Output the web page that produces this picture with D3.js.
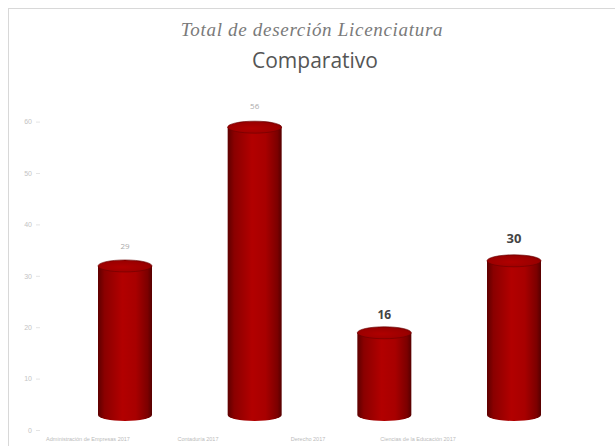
<!DOCTYPE html>
<html><head><meta charset="utf-8">
<script src="https://cdn.jsdelivr.net/npm/d3@7"></script>
<style>html,body{margin:0;padding:0;background:#fff;overflow:hidden}</style>
</head><body>
<svg id="c" width="615" height="446"></svg>
<script>
const categories = ["Administración de Empresas 2017", "Contaduría 2017", "Derecho 2017", "Ciencias de la Educación 2017"];
const values = [29, 56, 16, 30];
const tickValues = [0, 10, 20, 30, 40, 50, 60];
const titleText = "Total de deserción Licenciatura";
const subtitleText = "Comparativo";

const svg = d3.select("#c");
const W = 615, H = 446;

// frame
svg.append("rect").attr("x", 8.5).attr("y", 8.5).attr("width", W - 8).attr("height", H - 8)
  .attr("fill", "#fff").attr("stroke", "#d8d8d8");

// titles
svg.append("text").attr("x", 312).attr("y", 36).attr("text-anchor", "middle")
  .attr("font-family", "Liberation Serif, serif").attr("font-style", "italic")
  .attr("font-size", 19).attr("letter-spacing", 0.7).attr("fill", "#7a7a7a").text(titleText);
svg.append("text").attr("x", 315).attr("y", 68).attr("text-anchor", "middle")
  .attr("font-family", "Open Sans, sans-serif").attr("font-size", 21).attr("fill", "#555").text(subtitleText);

// scales
const y = d3.scaleLinear().domain([0, 60]).range([415, 106.6]);
const x = d3.scalePoint().domain(categories).range([125, 514]);
const xl = d3.scalePoint().domain(categories).range([88, 418]);
const bw = 54, ry = 6;

// back-wall axis (offset from front bars, as in the 3D chart)
const axisG = svg.append("g").attr("transform", "translate(40,15)");
axisG.call(d3.axisLeft(y).tickValues(tickValues).tickSize(4).tickPadding(4));
axisG.select(".domain").remove();
axisG.selectAll(".tick line").attr("stroke", "#e4e4e4");
axisG.selectAll(".tick text").attr("fill", "#c4c4c4").attr("font-size", 7).attr("font-family", "Liberation Sans, sans-serif");

// gradients
const defs = svg.append("defs");
const g = defs.append("linearGradient").attr("id", "body").attr("x1", 0).attr("x2", 1).attr("y1", 0).attr("y2", 0);
[[0, "#5e0000"], [0.12, "#8a0000"], [0.45, "#b20000"], [0.7, "#a80000"], [0.92, "#7c0000"], [1, "#560000"]]
  .forEach(([o, c]) => g.append("stop").attr("offset", o).attr("stop-color", c));
const gt = defs.append("radialGradient").attr("id", "cap").attr("cx", 0.45).attr("cy", 0.6).attr("r", 0.7);
[[0, "#b00000"], [0.7, "#9a0000"], [1, "#700000"]]
  .forEach(([o, c]) => gt.append("stop").attr("offset", o).attr("stop-color", c));

const bars = svg.append("g").selectAll("g").data(categories).join("g");
bars.append("path").attr("fill", "url(#body)").attr("d", (d, i) => {
  const cx = x(d), l = cx - bw / 2, r = cx + bw / 2, t = y(values[i]), b = y(0);
  return `M${l},${t} L${l},${b} A${bw / 2},${ry} 0 0 0 ${r},${b} L${r},${t} Z`;
});
bars.append("ellipse").attr("cx", d => x(d)).attr("cy", (d, i) => y(values[i]))
  .attr("rx", bw / 2).attr("ry", ry).attr("fill", "url(#cap)").attr("stroke", "#6a0000").attr("stroke-width", 0.6);

// value labels
const labelStyle = [
  { size: 8, color: "#aaa", weight: "normal", dy: 17 },
  { size: 8, color: "#aaa", weight: "normal", dy: 18 },
  { size: 12, color: "#444", weight: "bold", dy: 14 },
  { size: 13, color: "#444", weight: "bold", dy: 18 }
];
bars.append("text").attr("x", d => x(d)).attr("y", (d, i) => y(values[i]) - labelStyle[i].dy)
  .attr("text-anchor", "middle").attr("font-family", "Open Sans, sans-serif")
  .attr("font-size", (d, i) => labelStyle[i].size).attr("fill", (d, i) => labelStyle[i].color)
  .attr("font-weight", (d, i) => labelStyle[i].weight).text((d, i) => values[i]);

// category labels (front floor)
svg.append("g").selectAll("text").data(categories).join("text")
  .attr("x", d => xl(d)).attr("y", 441).attr("text-anchor", "middle")
  .attr("font-family", "Liberation Sans, sans-serif").attr("font-size", 5.5).attr("fill", "#bbb").text(d => d);
</script>
</body></html>
